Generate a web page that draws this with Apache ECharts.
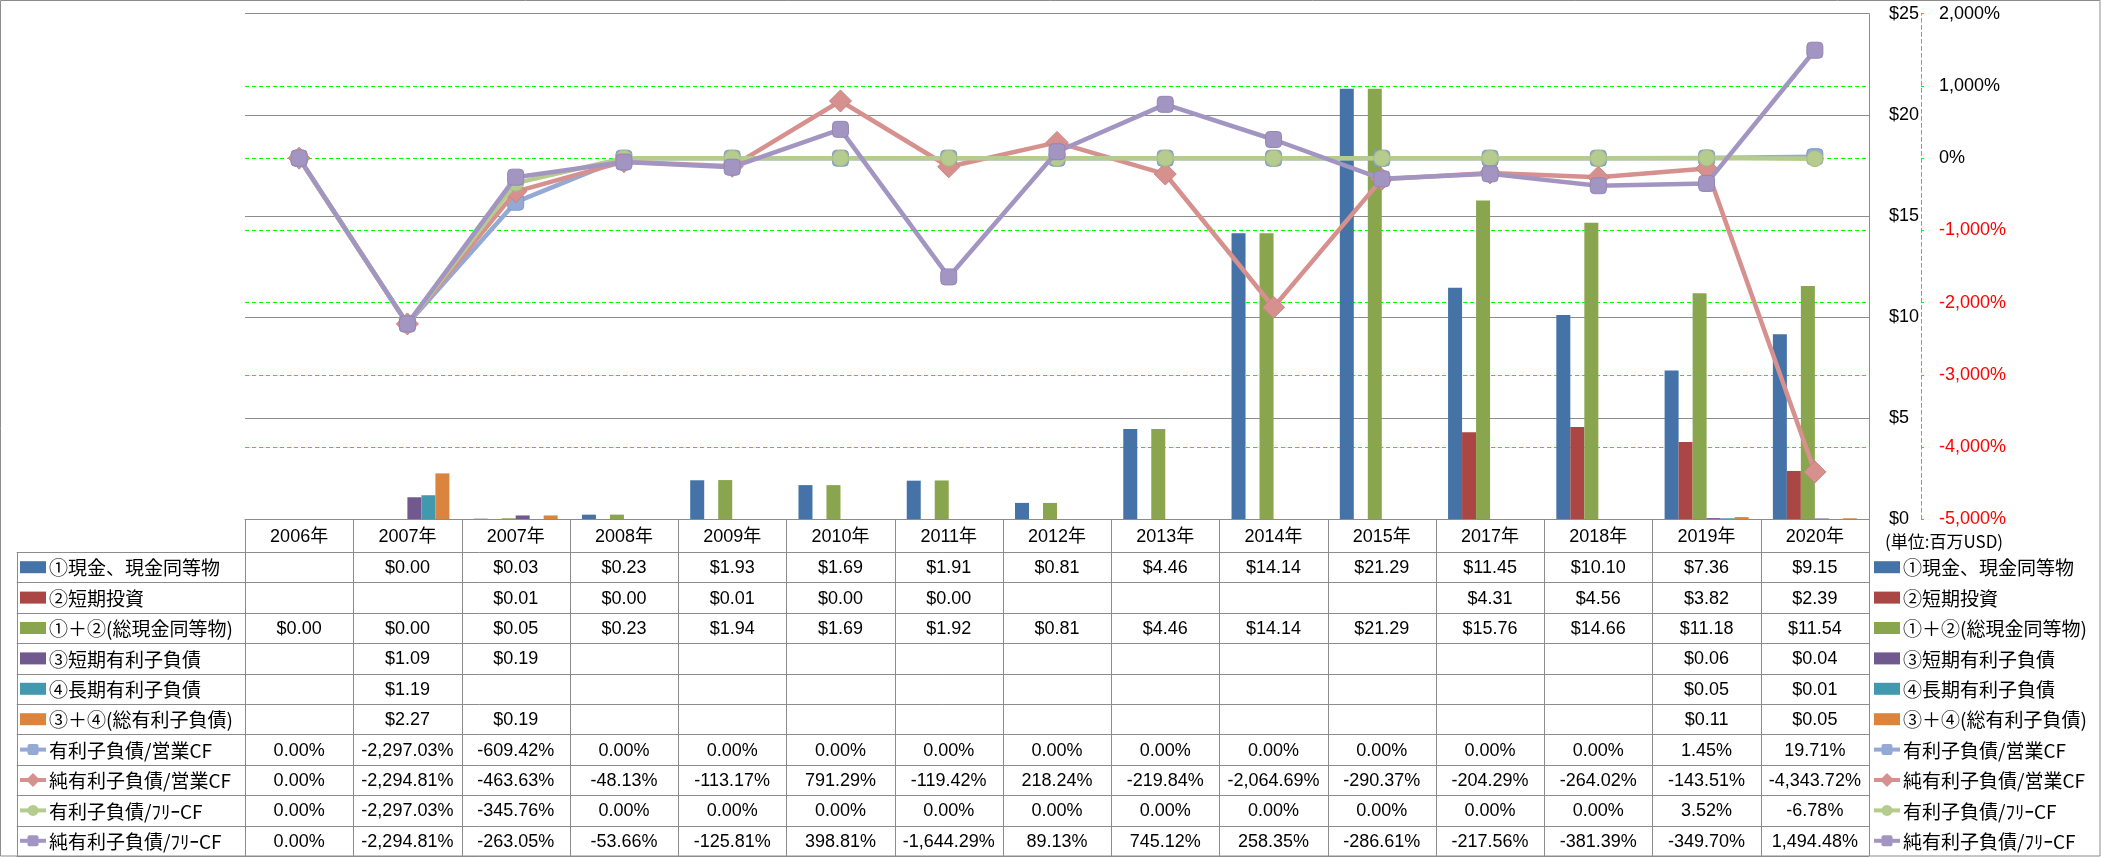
<!DOCTYPE html>
<html><head><meta charset="utf-8">
<script src="https://cdn.jsdelivr.net/npm/echarts@6/dist/echarts.min.js"></script>
<style>html,body{margin:0;padding:0;background:#fff;}#c{width:2101px;height:858px;}</style>
</head><body><div id="c"></div>
<script>
// ---------- DATA ----------
const categories = ['2006年','2007年','2007年','2008年','2009年','2010年','2011年','2012年','2013年','2014年','2015年','2017年','2018年','2019年','2020年'];
const cashEq      = [null, 0.00, 0.03, 0.23, 1.93, 1.69, 1.91, 0.81, 4.46, 14.14, 21.29, 11.45, 10.10, 7.36, 9.15];
const shortInv    = [null, null, 0.01, 0.00, 0.01, 0.00, 0.00, null, null, null, null, 4.31, 4.56, 3.82, 2.39];
const totalCash   = [0.00, 0.00, 0.05, 0.23, 1.94, 1.69, 1.92, 0.81, 4.46, 14.14, 21.29, 15.76, 14.66, 11.18, 11.54];
const shortDebt   = [null, 1.09, 0.19, null, null, null, null, null, null, null, null, null, null, 0.06, 0.04];
const longDebt    = [null, 1.19, null, null, null, null, null, null, null, null, null, null, null, 0.05, 0.01];
const totalDebt   = [null, 2.27, 0.19, null, null, null, null, null, null, null, null, null, null, 0.11, 0.05];
const debtOpCF      = [0.00, -2297.03, -609.42, 0.00, 0.00, 0.00, 0.00, 0.00, 0.00, 0.00, 0.00, 0.00, 0.00, 1.45, 19.71];
const netDebtOpCF   = [0.00, -2294.81, -463.63, -48.13, -113.17, 791.29, -119.42, 218.24, -219.84, -2064.69, -290.37, -204.29, -264.02, -143.51, -4343.72];
const debtFreeCF    = [0.00, -2297.03, -345.76, 0.00, 0.00, 0.00, 0.00, 0.00, 0.00, 0.00, 0.00, 0.00, 0.00, 3.52, -6.78];
const netDebtFreeCF = [0.00, -2294.81, -263.05, -53.66, -125.81, 398.81, -1644.29, 89.13, 745.12, 258.35, -286.61, -217.56, -381.39, -349.70, 1494.48];

const barNames  = ['①現金、現金同等物','②短期投資','①＋②(総現金同等物)','③短期有利子負債','④長期有利子負債','③＋④(総有利子負債)'];
const lineNames = ['有利子負債/営業CF','純有利子負債/営業CF','有利子負債/ﾌﾘｰCF','純有利子負債/ﾌﾘｰCF'];
const dollarTicks  = [0, 5, 10, 15, 20, 25];
const percentTicks = [-5000, -4000, -3000, -2000, -1000, 0, 1000, 2000];
const unitLabel = '(単位:百万USD)';

// ---------- STYLE ----------
const barData = [cashEq, shortInv, totalCash, shortDebt, longDebt, totalDebt];
const lineData = [debtOpCF, netDebtOpCF, debtFreeCF, netDebtFreeCF];
const barColors = ['#4572A7','#AA4643','#89A54E','#71588F','#4198AF','#DB843D'];
const lineColors = ['#94AAD4','#D6908E','#B5CC8E','#A395C2'];
const lineBorders = ['#7F98C8','#C98280','#A6BE80','#9486B5'];
const lineSymbols = ['roundRect','diamond','circle','roundRect'];
const lineSymbolSizes = [16, 22, 16, 16];

const W = 2101, H = 858;
const GL = 245, GR = 1869, GT = 13.7, GB = 519.3;
const ROW0 = 552, ROWH = 30.4;
const GRAY = '#8c8c8c';
const NUMFONT = '"Liberation Sans","Noto Sans CJK JP",sans-serif';
const CJKFONT = '"Noto Sans CJK JP","Liberation Sans",sans-serif';

const chart = echarts.init(document.getElementById('c'), null, {renderer:'canvas'});

const series = [];
barNames.forEach((n,i)=>{
  series.push({name:n, type:'bar', yAxisIndex:0, data:barData[i], barWidth:14, barGap:'0%',
    itemStyle:{color:barColors[i]}, z:2});
});
lineNames.forEach((n,i)=>{
  series.push({name:n, type:'line', yAxisIndex:1, data:lineData[i],
    symbol:lineSymbols[i], symbolSize:lineSymbolSizes[i], showAllSymbol:true,
    lineStyle:{color:lineColors[i], width:4.5},
    itemStyle:{color:lineColors[i], borderColor:lineBorders[i], borderWidth:1, opacity:1},
    z:5+i});
});

const fmtPct = v => v.toLocaleString('en-US',{minimumFractionDigits:2, maximumFractionDigits:2}) + '%';
const fmtUsd = v => '$' + v.toFixed(2);

chart.setOption({
  animation:false,
  backgroundColor:'#fff',
  grid:{left:GL, right:W-GR, top:GT, bottom:H-GB, containLabel:false},
  xAxis:{type:'category', data:categories, boundaryGap:true,
    axisLine:{show:true, lineStyle:{color:GRAY, width:1}},
    axisTick:{show:false}, axisLabel:{show:false}, splitLine:{show:false}},
  yAxis:[
    {type:'value', position:'right', min:dollarTicks[0], max:dollarTicks[dollarTicks.length-1], interval:dollarTicks[1]-dollarTicks[0],
     axisLine:{show:true, lineStyle:{color:GRAY, width:1}},
     axisTick:{show:false},
     axisLabel:{margin:20, color:'#000', fontSize:18, fontFamily:NUMFONT, formatter:v=>'$'+v},
     splitLine:{show:true, lineStyle:{color:GRAY, width:1}}},
    {type:'value', position:'right', offset:52, min:percentTicks[0], max:percentTicks[percentTicks.length-1], interval:percentTicks[1]-percentTicks[0],
     axisLine:{show:true, lineStyle:{color:'#00FF00', width:1, type:[4,3]}},
     axisTick:{show:true, inside:false, length:3, lineStyle:{color:'#00FF00'}},
     axisLabel:{margin:18, fontSize:18, fontFamily:NUMFONT,
       color:v=>(Number(v)<0?'#FF0000':'#000'),
       formatter:v=>v.toLocaleString('en-US')+'%'},
     splitLine:{show:true, showMinLine:false, showMaxLine:false, lineStyle:{color:'#00FF00', width:1, type:[4,3]}}}
  ],
  series:series
});

// ---------- DATA TABLE (built from arrays) ----------
const g = [];
const n = categories.length;
const colW = (GR-GL)/n;
const px = v => Math.round(v)+0.5;
const nRows = barNames.length + lineNames.length;
const rowY = r => ROW0 + ROWH*r;
const tableBottom = rowY(nRows);

function hline(x1,x2,y){ g.push({type:'line', shape:{x1:x1,y1:px(y),x2:x2,y2:px(y)}, style:{stroke:GRAY,lineWidth:1}, silent:true, z:50}); }
function vline(x,y1,y2){ g.push({type:'line', shape:{x1:px(x),y1:y1,x2:px(x),y2:y2}, style:{stroke:GRAY,lineWidth:1}, silent:true, z:50}); }
function text(x,y,t,opts){
  g.push({type:'text', x:x, y:y, silent:true, z:60,
    style:Object.assign({text:t, fill:'#000', fontSize:18, fontFamily:NUMFONT, align:'center', verticalAlign:'middle'}, opts||{})});
}

// header
hline(GL, GR, GB);
for (let r=0; r<=nRows; r++) hline(16.7, GR, rowY(r));
vline(16.7, px(ROW0), tableBottom);
for (let k=0; k<=n; k++) vline(GL + k*colW, px(GB), tableBottom);

const cx = i => chart.convertToPixel({xAxisIndex:0}, i);
categories.forEach((c,i)=> text(cx(i), (GB+ROW0)/2+1, c));

barData.forEach((arr,r)=>{
  arr.forEach((v,i)=>{ if (v!==null) text(cx(i), rowY(r)+ROWH/2+1, fmtUsd(v)); });
});
lineData.forEach((arr,r)=>{
  arr.forEach((v,i)=>{ if (v!==null) text(cx(i), rowY(barNames.length+r)+ROWH/2+1, fmtPct(v)); });
});

// legend keys (left inside table, and right)
function legendItem(x0, yc, idx, label){
  if (idx < barNames.length){
    g.push({type:'rect', shape:{x:x0, y:yc-6, width:26, height:12}, style:{fill:barColors[idx]}, silent:true, z:60});
  } else {
    const j = idx - barNames.length;
    const col = lineColors[j];
    g.push({type:'line', shape:{x1:x0, y1:yc, x2:x0+26, y2:yc}, style:{stroke:col, lineWidth:4}, silent:true, z:60});
    const mx = x0+13;
    if (lineSymbols[j]==='diamond'){
      g.push({type:'polygon', shape:{points:[[mx,yc-7],[mx+7,yc],[mx,yc+7],[mx-7,yc]]}, style:{fill:col}, silent:true, z:61});
    } else if (lineSymbols[j]==='circle'){
      g.push({type:'circle', shape:{cx:mx, cy:yc, r:5.5}, style:{fill:col}, silent:true, z:61});
    } else {
      g.push({type:'rect', shape:{x:mx-5.5, y:yc-5.5, width:11, height:11, r:2}, style:{fill:col}, silent:true, z:61});
    }
  }
  text(x0+29, yc+1, label, {align:'left', fontSize:19, fontFamily:CJKFONT});
}
const allNames = barNames.concat(lineNames);
allNames.forEach((nm,r)=>{
  const yc = rowY(r)+ROWH/2;
  legendItem(20, yc, r, nm);
  legendItem(1874, yc, r, nm);
});

text(1885, 542, unitLabel, {align:'left', fontSize:17, fontFamily:CJKFONT});

// outer frame
g.push({type:'rect', shape:{x:0.5, y:0.5, width:W-1.5, height:tableBottom-0.5}, style:{fill:'none', stroke:GRAY, lineWidth:1}, silent:true, z:70});

chart.setOption({graphic:{elements:g}});
</script>
</body></html>
